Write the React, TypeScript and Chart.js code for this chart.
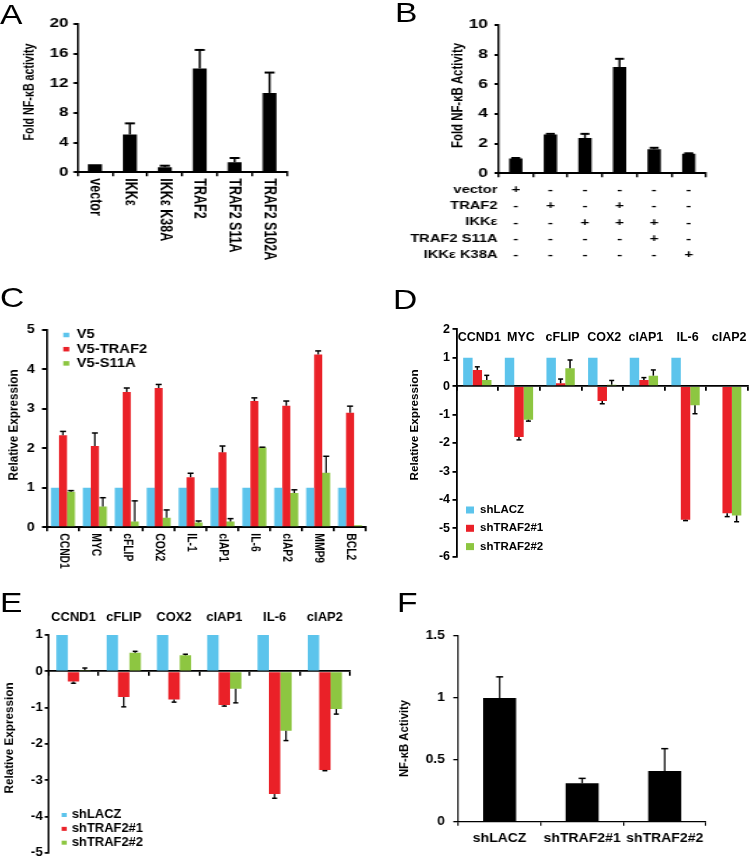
import React, { useEffect, useRef } from 'react';
import { Chart, registerables } from 'chart.js';

Chart.register(...registerables);

const FONT = '"Liberation Sans", Arial, Helvetica, sans-serif';
const BLUE = '#5cc4ec';
const RED = '#ea2128';
const GREEN = '#8dc641';
const BLACK = '#000000';

// ---------- Panel A ----------
const aLabels = ['vector', 'IKKε', 'IKKε K38A', 'TRAF2', 'TRAF2 S11A', 'TRAF2 S102A'];
const aValues = [1.1, 5.1, 0.67, 14.0, 1.35, 10.7];
const aErrors = [0, 1.5, 0.22, 2.5, 0.58, 2.75];
const aTicks = [0, 4, 8, 12, 16, 20];

// ---------- Panel B ----------
const bGroups = ['vector', 'TRAF2', 'IKKε', 'TRAF2+IKKε', 'TRAF2 S11A+IKKε', 'IKKε K38A'];
const bValues = [1.0, 2.62, 2.38, 7.16, 1.62, 1.32];
const bErrors = [0.03, 0.04, 0.28, 0.56, 0.1, 0.03];
const bTicks = [0, 2, 4, 6, 8, 10];
const bRows = ['vector', 'TRAF2', 'IKKε', 'TRAF2 S11A', 'IKKε K38A'];
const bSigns = [
  ['+', '-', '-', '-', '-', '-'],
  ['-', '+', '-', '+', '-', '-'],
  ['-', '-', '+', '+', '+', '-'],
  ['-', '-', '-', '-', '+', '-'],
  ['-', '-', '-', '-', '-', '+'],
];

// ---------- Panel C ----------
const cGenes = ['CCND1', 'MYC', 'cFLIP', 'COX2', 'IL-1', 'cIAP1', 'IL-6', 'cIAP2', 'MMP9', 'BCL2'];
const cSeries = ['V5', 'V5-TRAF2', 'V5-S11A'];
const cV5 = [1, 1, 1, 1, 1, 1, 1, 1, 1, 1];
const cTRAF2 = [2.33, 2.06, 3.43, 3.53, 1.27, 1.9, 3.2, 3.08, 4.38, 2.9];
const cTRAF2Err = [0.1, 0.33, 0.1, 0.09, 0.1, 0.16, 0.08, 0.12, 0.09, 0.17];
const cS11A = [0.9, 0.53, 0.15, 0.24, 0.12, 0.15, 2.02, 0.87, 1.38, 0.05];
const cS11AErr = [0.03, 0.22, 0.52, 0.2, 0.04, 0.07, 0.01, 0.08, 0.42, 0];
const cTicks = [0, 1, 2, 3, 4, 5];

// ---------- Panel D ----------
const dGenes = ['CCND1', 'MYC', 'cFLIP', 'COX2', 'cIAP1', 'IL-6', 'cIAP2'];
const dSeries = ['shLACZ', 'shTRAF2#1', 'shTRAF2#2'];
const dLACZ = [1, 1, 1, 1, 1, 1, null];
const dSh1 = [0.57, -1.79, 0.1, -0.52, 0.22, -4.7, -4.47];
const dSh1Err = [0.11, 0.1, 0.15, 0.1, 0.08, 0.03, 0.12];
const dSh2 = [0.22, -1.18, 0.63, 0.05, 0.37, -0.67, -4.55];
const dSh2Err = [0.16, 0.05, 0.29, 0.15, 0.2, 0.3, 0.22];
const dTicks = [-6, -5, -4, -3, -2, -1, 0, 1, 2];

// ---------- Panel E ----------
const eGenes = ['CCND1', 'cFLIP', 'COX2', 'cIAP1', 'IL-6', 'cIAP2'];
const eSeries = ['shLACZ', 'shTRAF2#1', 'shTRAF2#2'];
const eLACZ = [1, 1, 1, 1, 1, 1];
const eSh1 = [-0.28, -0.71, -0.78, -0.93, -3.38, -2.72];
const eSh1Err = [0.05, 0.27, 0.07, 0.03, 0.12, 0.02];
const eSh2 = [0.03, 0.51, 0.44, -0.48, -1.64, -1.04];
const eSh2Err = [0.06, 0.04, 0.03, 0.39, 0.27, 0.14];
const eTicks = [-5, -4, -3, -2, -1, 0, 1];

// ---------- Panel F ----------
const fGroups = ['shLACZ', 'shTRAF2#1', 'shTRAF2#2'];
const fValues = [1.0, 0.31, 0.41];
const fErrors = [0.17, 0.04, 0.18];
const fTicks = [0, 0.5, 1, 1.5];

type Geo = {
  left: number; top: number; width: number; height: number; sx: number;
  L: number; R: number; T: number; B: number;
};

const geoA: Geo = { left: 0, top: 0, width: 330, height: 280, sx: 1.35, L: 77.5, R: 287, T: 24, B: 172.3 };
const geoB: Geo = { left: 370, top: 0, width: 380, height: 280, sx: 1.4, L: 498.5, R: 706, T: 25, B: 173.3 };
const geoC: Geo = { left: 0, top: 280, width: 370, height: 300, sx: 1.18, L: 47, R: 366, T: 330, B: 527.3 };
const geoD: Geo = { left: 370, top: 280, width: 380, height: 300, sx: 1.0, L: 456.5, R: 748, T: 329.3, B: 556.7 };
const geoE: Geo = { left: 0, top: 580, width: 370, height: 279, sx: 1.08, L: 48.3, R: 350, T: 635, B: 852.7 };
const geoF: Geo = { left: 380, top: 580, width: 370, height: 279, sx: 1.12, L: 458.3, R: 706, T: 636, B: 821.7 };

const bold = (size: number) => `bold ${size}px ${FONT}`;

function makeExtras(g: Geo, e: any) {
  const X = (p: number) => (p - g.left) / g.sx;
  const Y = (p: number) => p - g.top;
  return {
    id: 'extras',
    afterDatasetsDraw(chart: any) {
      const ctx = chart.ctx;
      const ys = chart.scales.y;
      ctx.save();
      ctx.strokeStyle = BLACK;
      chart.data.datasets.forEach((ds: any, i: number) => {
        if (!ds.errors) return;
        const meta = chart.getDatasetMeta(i);
        meta.data.forEach((el: any, j: number) => {
          const v = ds.data[j];
          const err = ds.errors[j];
          if (v == null || !err) return;
          const dir = v < 0 ? -1 : 1;
          const y0 = ys.getPixelForValue(v);
          const y1 = ys.getPixelForValue(v + dir * err);
          const x = el.x;
          ctx.lineWidth = e.errW / g.sx;
          ctx.beginPath();
          ctx.moveTo(x, y0);
          ctx.lineTo(x, y1);
          ctx.stroke();
          ctx.lineWidth = e.errW;
          const hw = e.cap / 2 / g.sx;
          ctx.beginPath();
          ctx.moveTo(x - hw, y1);
          ctx.lineTo(x + hw, y1);
          ctx.stroke();
        });
      });
      ctx.restore();
    },
    afterDraw(chart: any) {
      const ctx = chart.ctx;
      const xs = chart.scales.x;
      const area = chart.chartArea;
      ctx.save();
      ctx.fillStyle = BLACK;
      if (e.rotLabels) {
        ctx.font = bold(e.rotLabels.size);
        ctx.textAlign = 'left';
        ctx.textBaseline = 'middle';
        chart.data.labels.forEach((lab: string, i: number) => {
          const x = xs.getPixelForValue(i);
          ctx.save();
          ctx.translate(x, area.bottom + e.rotLabels.offset);
          ctx.rotate(Math.PI / 2);
          ctx.fillText(lab, 0, 0);
          ctx.restore();
        });
      }
      if (e.topLabels) {
        ctx.font = bold(e.topLabels.size);
        ctx.textAlign = 'center';
        ctx.textBaseline = 'middle';
        chart.data.labels.forEach((lab: string, i: number) => {
          ctx.fillText(lab, xs.getPixelForValue(i) + e.topLabels.dx / g.sx, Y(e.topLabels.y));
        });
      }
      if (e.legend) {
        const L = e.legend;
        ctx.font = bold(L.size);
        ctx.textAlign = 'left';
        ctx.textBaseline = 'middle';
        chart.data.datasets.forEach((ds: any, k: number) => {
          const yy = Y(L.y + k * L.dy);
          ctx.fillStyle = ds.backgroundColor;
          ctx.fillRect(X(L.x), yy - L.sh / 2, L.sw / g.sx, L.sh);
          ctx.fillStyle = BLACK;
          ctx.fillText(ds.label, X(L.tx), yy);
        });
      }
      if (e.table) {
        const T = e.table;
        ctx.textBaseline = 'middle';
        T.rows.forEach((row: string, r: number) => {
          const yy = Y(T.y + r * T.dy);
          ctx.font = bold(T.size);
          ctx.textAlign = 'right';
          ctx.fillText(row, area.left - T.gap / g.sx, yy);
          ctx.font = bold(T.signSize);
          ctx.textAlign = 'center';
          T.signs[r].forEach((s: string, c: number) => {
            ctx.fillText(s, xs.getPixelForValue(c), yy);
          });
        });
      }
      if (e.yTitle) {
        ctx.font = bold(e.yTitle.size);
        ctx.textAlign = 'center';
        ctx.textBaseline = 'middle';
        ctx.translate(X(e.yTitle.x), Y(e.yTitle.y));
        ctx.rotate(-Math.PI / 2);
        ctx.fillText(e.yTitle.text, 0, 0);
      }
      ctx.restore();
    },
  };
}

function buildConfig(g: Geo, o: any) {
  const cw = Math.round(g.width / g.sx);
  const X = (p: number) => (p - g.left) / g.sx;
  const Y = (p: number) => p - g.top;
  const zeroPad = (s: any) => {
    s.paddingTop = 0; s.paddingBottom = 0; s.paddingLeft = 0; s.paddingRight = 0;
  };
  const font = (size: number) => ({ family: FONT, size, weight: 'bold' as const, lineHeight: 1.2 });
  const yt: number[] = o.yTicks;
  return {
    type: 'bar' as const,
    data: {
      labels: o.labels,
      datasets: o.datasets.map((d: any) => ({
        ...d,
        barPercentage: o.barPct,
        categoryPercentage: o.catPct,
        borderWidth: 0,
      })),
    },
    options: {
      animation: false,
      responsive: false,
      maintainAspectRatio: false,
      devicePixelRatio: 1,
      events: [],
      layout: {
        autoPadding: false,
        padding: {
          left: 0,
          top: Y(g.T),
          right: cw - X(g.R),
          bottom: o.xAtZero ? g.height - Y(g.B) : 0,
        },
      },
      plugins: { legend: { display: false }, tooltip: { enabled: false }, title: { display: false } },
      scales: {
        x: {
          type: 'category',
          position: o.xAtZero ? { y: 0 } : 'bottom',
          offset: true,
          grid: {
            display: true, offset: true, drawOnChartArea: false, drawTicks: true,
            tickLength: 4, color: BLACK, lineWidth: o.axisW / g.sx,
          },
          border: { display: true, color: BLACK, width: o.axisW },
          ticks: o.xTicks
            ? { display: true, color: BLACK, font: font(o.xTicks.size), padding: o.xTicks.pad, maxRotation: 0, minRotation: 0, autoSkip: false }
            : { display: false },
          afterFit: (s: any) => {
            zeroPad(s);
            if (!o.xAtZero) s.height = g.height - Y(g.B);
          },
        },
        y: {
          min: yt[0],
          max: yt[yt.length - 1],
          grid: {
            display: true, drawOnChartArea: false, drawTicks: true,
            tickLength: o.tickLen / g.sx, color: BLACK, lineWidth: o.axisW,
          },
          border: { display: true, color: BLACK, width: o.axisW / g.sx },
          ticks: {
            stepSize: yt[1] - yt[0],
            color: BLACK,
            font: font(o.tickSize),
            padding: o.tickPad / g.sx,
            callback: (v: any) => String(Number(v)),
          },
          afterFit: (s: any) => {
            zeroPad(s);
            s.width = X(g.L);
          },
        },
      },
    },
    plugins: [makeExtras(g, o.extras)],
  };
}

function Panel({ g, cfg }: { g: Geo; cfg: () => any }) {
  const ref = useRef<HTMLCanvasElement | null>(null);
  const cw = Math.round(g.width / g.sx);
  useEffect(() => {
    if (!ref.current) return;
    const chart = new Chart(ref.current, cfg() as any);
    return () => chart.destroy();
  }, []);
  return (
    <canvas
      ref={ref}
      width={cw}
      height={g.height}
      style={{
        position: 'absolute',
        left: g.left,
        top: g.top,
        width: cw,
        height: g.height,
        transform: `scaleX(${g.sx})`,
        transformOrigin: '0 0',
      }}
    />
  );
}

const cfgA = () =>
  buildConfig(geoA, {
    labels: aLabels,
    datasets: [{ label: 'Fold NF-κB activity', data: aValues, errors: aErrors, backgroundColor: BLACK }],
    yTicks: aTicks, barPct: 0.4, catPct: 1, tickSize: 12.5, tickLen: 4, tickPad: 5, axisW: 2,
    extras: {
      errW: 2, cap: 10,
      rotLabels: { size: 12.5, offset: 6 },
      yTitle: { text: 'Fold NF-κB activity', x: 30, y: 92, size: 10.7 },
    },
  });

const cfgB = () =>
  buildConfig(geoB, {
    labels: bGroups,
    datasets: [{ label: 'Fold NF-κB Activity', data: bValues, errors: bErrors, backgroundColor: BLACK }],
    yTicks: bTicks, barPct: 0.385, catPct: 1, tickSize: 12.5, tickLen: 4, tickPad: 6.5, axisW: 2,
    extras: {
      errW: 2, cap: 9,
      table: { rows: bRows, signs: bSigns, y: 190, dy: 16.25, size: 10.5, signSize: 11, gap: 1 },
      yTitle: { text: 'Fold NF-κB Activity', x: 457.7, y: 95.5, size: 11.4 },
    },
  });

const cfgC = () =>
  buildConfig(geoC, {
    labels: cGenes,
    datasets: [
      { label: cSeries[0], data: cV5, backgroundColor: BLUE },
      { label: cSeries[1], data: cTRAF2, errors: cTRAF2Err, backgroundColor: RED },
      { label: cSeries[2], data: cS11A, errors: cS11AErr, backgroundColor: GREEN },
    ],
    yTicks: cTicks, barPct: 1, catPct: 0.75, tickSize: 12, tickLen: 5, tickPad: 7.4, axisW: 2,
    extras: {
      errW: 1.5, cap: 6,
      rotLabels: { size: 10.3, offset: 6 },
      legend: { x: 63.3, tx: 76.7, y: 335, dy: 14.2, sw: 6, sh: 4.5, size: 12.5 },
      yTitle: { text: 'Relative Expression', x: 14, y: 425, size: 11.7 },
    },
  });

const cfgD = () =>
  buildConfig(geoD, {
    labels: dGenes,
    datasets: [
      { label: dSeries[0], data: dLACZ, backgroundColor: BLUE },
      { label: dSeries[1], data: dSh1, errors: dSh1Err, backgroundColor: RED },
      { label: dSeries[2], data: dSh2, errors: dSh2Err, backgroundColor: GREEN },
    ],
    xAtZero: true,
    yTicks: dTicks, barPct: 1, catPct: 0.68, tickSize: 12.5, tickLen: 4, tickPad: 2.5, axisW: 1.8,
    extras: {
      errW: 1.5, cap: 5,
      topLabels: { size: 12.5, y: 338, dx: 2 },
      legend: { x: 466, tx: 480, y: 510, dy: 18.3, sw: 8, sh: 7, size: 11.5 },
      yTitle: { text: 'Relative Expression', x: 415, y: 425, size: 11.7 },
    },
  });

const cfgE = () =>
  buildConfig(geoE, {
    labels: eGenes,
    datasets: [
      { label: eSeries[0], data: eLACZ, backgroundColor: BLUE },
      { label: eSeries[1], data: eSh1, errors: eSh1Err, backgroundColor: RED },
      { label: eSeries[2], data: eSh2, errors: eSh2Err, backgroundColor: GREEN },
    ],
    xAtZero: true,
    yTicks: eTicks, barPct: 1, catPct: 0.68, tickSize: 12.5, tickLen: 3.5, tickPad: 2, axisW: 1.8,
    extras: {
      errW: 1.5, cap: 5,
      topLabels: { size: 12, y: 617.3, dx: 0 },
      legend: { x: 61.7, tx: 71.7, y: 815, dy: 13.85, sw: 5, sh: 4, size: 12 },
      yTitle: { text: 'Relative Expression', x: 9, y: 738, size: 11.7 },
    },
  });

const cfgF = () =>
  buildConfig(geoF, {
    labels: fGroups,
    datasets: [{ label: 'NF-κB Activity', data: fValues, errors: fErrors, backgroundColor: BLACK }],
    yTicks: fTicks, barPct: 0.4, catPct: 1, tickSize: 12.5, tickLen: 5, tickPad: 8.3, axisW: 1.3,
    xTicks: { size: 12.5, pad: 5 },
    extras: {
      errW: 1.5, cap: 7,
      yTitle: { text: 'NF-κB Activity', x: 405, y: 738.5, size: 11.3 },
    },
  });

const panelLetters = [
  { t: 'A', x: 0, y: 1.3 },
  { t: 'B', x: 395, y: -0.7 },
  { t: 'C', x: 0, y: 284 },
  { t: 'D', x: 393, y: 286 },
  { t: 'E', x: 0, y: 589 },
  { t: 'F', x: 397, y: 589 },
];

export default function App() {
  return (
    <div
      style={{
        position: 'absolute',
        left: 0,
        top: 0,
        width: 750,
        height: 859,
        overflow: 'hidden',
        background: '#ffffff',
      }}
    >
      <Panel g={geoA} cfg={cfgA} />
      <Panel g={geoB} cfg={cfgB} />
      <Panel g={geoC} cfg={cfgC} />
      <Panel g={geoD} cfg={cfgD} />
      <Panel g={geoE} cfg={cfgE} />
      <Panel g={geoF} cfg={cfgF} />
      {panelLetters.map((p) => (
        <div
          key={p.t}
          style={{
            position: 'absolute',
            left: p.x,
            top: p.y,
            fontFamily: FONT,
            fontSize: 28,
            lineHeight: '28px',
            color: '#000',
            transform: 'scaleX(1.2)',
            transformOrigin: '0 0',
          }}
        >
          {p.t}
        </div>
      ))}
    </div>
  );
}
